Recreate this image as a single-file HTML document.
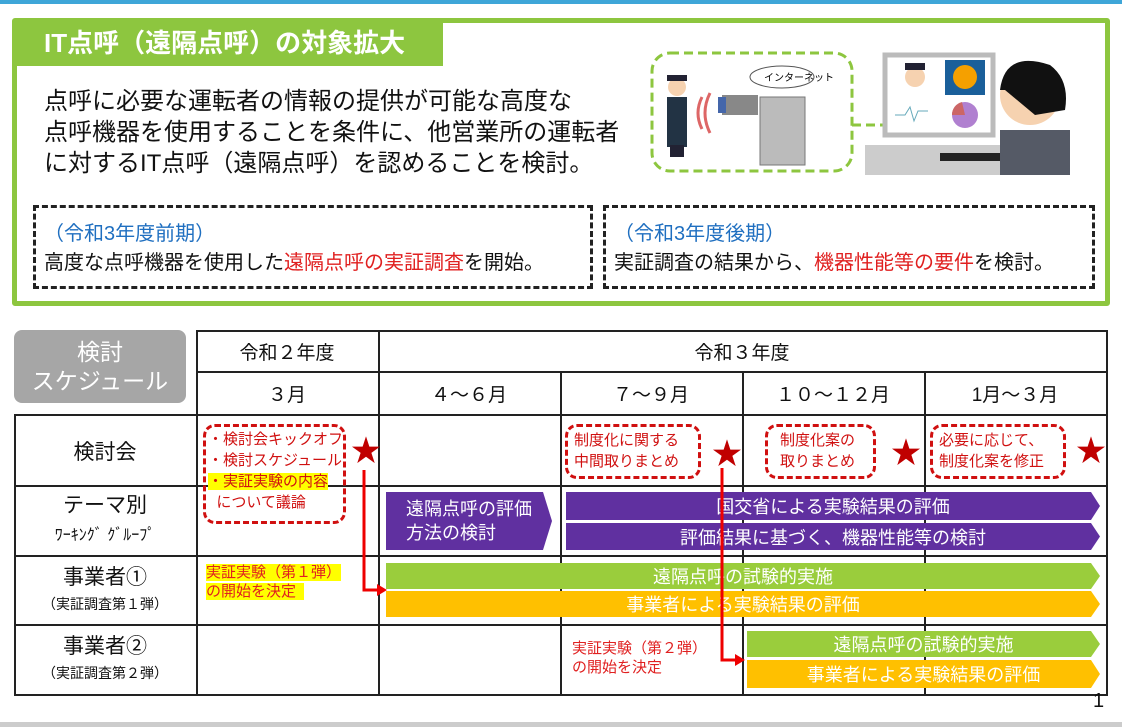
<!DOCTYPE html>
<html><head><meta charset="utf-8">
<style>
*{margin:0;padding:0;box-sizing:border-box}
body{width:1122px;height:727px;position:relative;background:#fff;overflow:hidden;font-family:"Liberation Sans","Noto Sans CJK JP",sans-serif;color:#111}
.a{position:absolute}
.c{display:flex;align-items:center;justify-content:center;text-align:center}
.col{flex-direction:column}
.bar{position:absolute;color:#fff;font-size:18px;display:flex;align-items:center;justify-content:center;clip-path:polygon(0 0,calc(100% - 9px) 0,100% 50%,calc(100% - 9px) 100%,0 100%)}
.rd{position:absolute;border:3px dashed #d01010;border-radius:12px;color:#d01010;font-size:15px;line-height:21px}
.star{position:absolute;color:#c00000;font-size:30px;line-height:30px}
.hl{position:absolute;height:2px;background:#222}
.vl{position:absolute;width:2px;background:#222}
</style></head><body>
<div class="a" style="left:0;top:0;width:1122px;height:4px;background:#3ea6d8"></div>
<div class="a" style="left:12px;top:18px;width:1098px;height:288px;border:5px solid #8dc63f;border-radius:3px"></div>
<div class="a" style="left:14px;top:20px;width:429px;height:46px;background:#8dc63f;color:#fff;font-size:26px;font-weight:bold;padding-left:30px;line-height:46px">IT点呼（遠隔点呼）の対象拡大</div>
<div class="a" style="left:44px;top:86px;font-size:24px;line-height:31px">点呼に必要な運転者の情報の提供が可能な高度な<br>点呼機器を使用することを条件に、他営業所の運転者<br>に対するIT点呼（遠隔点呼）を認めることを検討。</div>
<div class="a" style="left:33px;top:205px;width:560px;height:84px;border:3px dashed #222;padding:12px 0 0 8px;font-size:20px;line-height:29px"><span style="color:#1f6fc0">（令和3年度前期）</span><br>高度な点呼機器を使用した<span style="color:#e02020">遠隔点呼の実証調査</span>を開始。</div>
<div class="a" style="left:603px;top:205px;width:492px;height:84px;border:3px dashed #222;padding:12px 0 0 8px;font-size:20px;line-height:29px"><span style="color:#1f6fc0">（令和3年度後期）</span><br>実証調査の結果から、<span style="color:#e02020">機器性能等の要件</span>を検討。</div>
<!-- illustration -->
<svg class="a" style="left:640px;top:35px" width="440" height="150">
<rect x="12" y="18" width="200" height="118" rx="18" fill="none" stroke="#8dc63f" stroke-width="3" stroke-dasharray="9 5"/>
<path d="M212 90 L250 90 L265 80" fill="none" stroke="#8dc63f" stroke-width="3" stroke-dasharray="9 5"/>
<circle cx="37" cy="52" r="9" fill="#f6d2b0"/><rect x="27" y="40" width="20" height="6" fill="#223"/>
<rect x="27" y="62" width="20" height="50" fill="#223344"/><rect x="30" y="110" width="14" height="12" fill="#223"/>
<path d="M62 62 q-8 16 0 32 M70 58 q-10 20 0 40" stroke="#d66" stroke-width="3" fill="none"/>
<rect x="82" y="60" width="36" height="20" fill="#888"/><rect x="78" y="62" width="8" height="16" fill="#46a"/>
<rect x="120" y="62" width="45" height="68" fill="#bbb" stroke="#777"/>
<ellipse cx="142" cy="42" rx="32" ry="11" fill="#fff" stroke="#555"/><text x="124" y="46" font-size="10" font-family="Noto Sans CJK JP">インターネット</text>
<rect x="245" y="20" width="108" height="80" fill="#fff" stroke="#bbb" stroke-width="5"/>
<rect x="305" y="25" width="40" height="35" fill="#1a5f9a"/><circle cx="325" cy="42" r="12" fill="#f5a000"/>
<circle cx="275" cy="42" r="10" fill="#f6d2b0"/><rect x="265" y="28" width="20" height="7" fill="#223"/>
<circle cx="325" cy="80" r="13" fill="#b080d0"/><path d="M325 80 L312 80 A13 13 0 0 1 322 67Z" fill="#c66"/>
<path d="M255 80 h10 l5 -8 l4 14 l4 -10 h10" stroke="#6ab" fill="none"/>
<rect x="225" y="110" width="160" height="30" fill="#ccc"/><rect x="300" y="118" width="60" height="8" fill="#222"/>
<circle cx="390" cy="60" r="30" fill="#f6d2b0"/><path d="M360 55 q5 -40 50 -25 q20 15 15 45 L395 80 L365 55Z" fill="#111"/>
<rect x="360" y="95" width="70" height="45" fill="#555a66"/>
</svg>
<!-- schedule -->
<div class="a c" style="left:14px;top:330px;width:172px;height:73px;background:#a6a6a6;border-radius:8px;color:#fff;font-size:23px;line-height:29px">検討<br>スケジュール</div>
<div class="hl" style="left:196px;top:330px;width:912px"></div>
<div class="hl" style="left:196px;top:371px;width:912px"></div>
<div class="hl" style="left:14px;top:414px;width:1094px"></div>
<div class="hl" style="left:14px;top:485px;width:1094px"></div>
<div class="hl" style="left:14px;top:555px;width:1094px"></div>
<div class="hl" style="left:14px;top:624px;width:1094px"></div>
<div class="hl" style="left:14px;top:694px;width:1094px"></div>
<div class="vl" style="left:14px;top:414px;height:282px"></div>
<div class="vl" style="left:196px;top:330px;height:366px"></div>
<div class="vl" style="left:378px;top:330px;height:366px"></div>
<div class="vl" style="left:560px;top:371px;height:325px"></div>
<div class="vl" style="left:742px;top:371px;height:325px"></div>
<div class="vl" style="left:924px;top:371px;height:325px"></div>
<div class="vl" style="left:1106px;top:330px;height:366px"></div>
<div class="a c" style="left:196px;top:331px;width:182px;height:40px;font-size:19px">令和２年度</div>
<div class="a c" style="left:378px;top:331px;width:728px;height:40px;font-size:19px">令和３年度</div>
<div class="a c" style="left:196px;top:373px;width:182px;height:41px;font-size:19px">３月</div>
<div class="a c" style="left:378px;top:373px;width:182px;height:41px;font-size:19px">４～６月</div>
<div class="a c" style="left:560px;top:373px;width:182px;height:41px;font-size:19px">７～９月</div>
<div class="a c" style="left:742px;top:373px;width:182px;height:41px;font-size:19px">１０～１２月</div>
<div class="a c" style="left:924px;top:373px;width:182px;height:41px;font-size:19px">1月～３月</div>
<div class="a c" style="left:14px;top:416px;width:182px;height:69px;font-size:21px">検討会</div>
<div class="a c col" style="left:14px;top:487px;width:182px;height:68px;font-size:21px;line-height:30px"><div>テーマ別</div><div style="font-size:16px">ﾜｰｷﾝｸﾞ ｸﾞﾙｰﾌﾟ</div></div>
<div class="a c col" style="left:14px;top:557px;width:182px;height:67px;font-size:21px;line-height:27px"><div>事業者①</div><div style="font-size:14px">（実証調査第１弾）</div></div>
<div class="a c col" style="left:14px;top:626px;width:182px;height:68px;font-size:21px;line-height:27px"><div>事業者②</div><div style="font-size:14px">（実証調査第２弾）</div></div>
<!-- bars -->
<div class="bar" style="left:386px;top:492px;width:166px;height:58px;background:#6030a0;line-height:24px;font-size:18px;flex-direction:column">遠隔点呼の評価<br>方法の検討</div>
<div class="bar" style="left:566px;top:492px;width:534px;height:28px;background:#6030a0">国交省による実験結果の評価</div>
<div class="bar" style="left:566px;top:523px;width:534px;height:27px;background:#6030a0">評価結果に基づく、機器性能等の検討</div>
<div class="bar" style="left:386px;top:563px;width:714px;height:26px;background:#9acd3c">遠隔点呼の試験的実施</div>
<div class="bar" style="left:386px;top:591px;width:714px;height:26px;background:#ffc000">事業者による実験結果の評価</div>
<div class="bar" style="left:747px;top:631px;width:353px;height:26px;background:#9acd3c">遠隔点呼の試験的実施</div>
<div class="bar" style="left:747px;top:660px;width:353px;height:28px;background:#ffc000">事業者による実験結果の評価</div>
<!-- red notes -->
<div class="rd" style="left:203px;top:424px;width:143px;height:100px;padding:2px 0 0 2px;font-size:15px">・検討会キックオフ<br>・検討スケジュール<br><span style="background:#ffff00">・実証実験の内容</span><br>&nbsp;&nbsp;について議論</div>
<div class="rd" style="left:565px;top:424px;width:136px;height:55px;padding:3px 0 0 6px">制度化に関する<br>中間取りまとめ</div>
<div class="rd" style="left:765px;top:424px;width:111px;height:55px;padding:3px 0 0 12px">制度化案の<br>取りまとめ</div>
<div class="rd" style="left:930px;top:424px;width:136px;height:55px;padding:3px 0 0 6px">必要に応じて、<br>制度化案を修正</div>
<div class="star" style="left:351px;top:437px">★</div>
<div class="star" style="left:712px;top:440px">★</div>
<div class="star" style="left:891px;top:439px">★</div>
<div class="star" style="left:1076px;top:437px">★</div>
<div class="a" style="left:206px;top:563px;color:#e02020;font-size:15px;line-height:19px"><span style="background:#ffff00">実証実験（第１弾）</span><br><span style="background:#ffff00">の開始を決定&nbsp;&nbsp;</span></div>
<div class="a" style="left:572px;top:639px;color:#e02020;font-size:15px;line-height:19px">実証実験（第２弾）<br>の開始を決定</div>
<svg class="a" style="left:0;top:0" width="1122" height="727">
<path d="M364 470 V590 H378" stroke="#e00" stroke-width="3" fill="none"/><path d="M377 584 L387 590 L377 596Z" fill="#e00"/>
<path d="M722 468 V660 H736" stroke="#e00" stroke-width="3" fill="none"/><path d="M735 654 L745 660 L735 666Z" fill="#e00"/>
</svg>
<div class="a" style="left:1093px;top:690px;font-size:20px">1</div>
<div class="a" style="left:0;top:722px;width:1122px;height:5px;background:#ccc"></div>
</body></html>
